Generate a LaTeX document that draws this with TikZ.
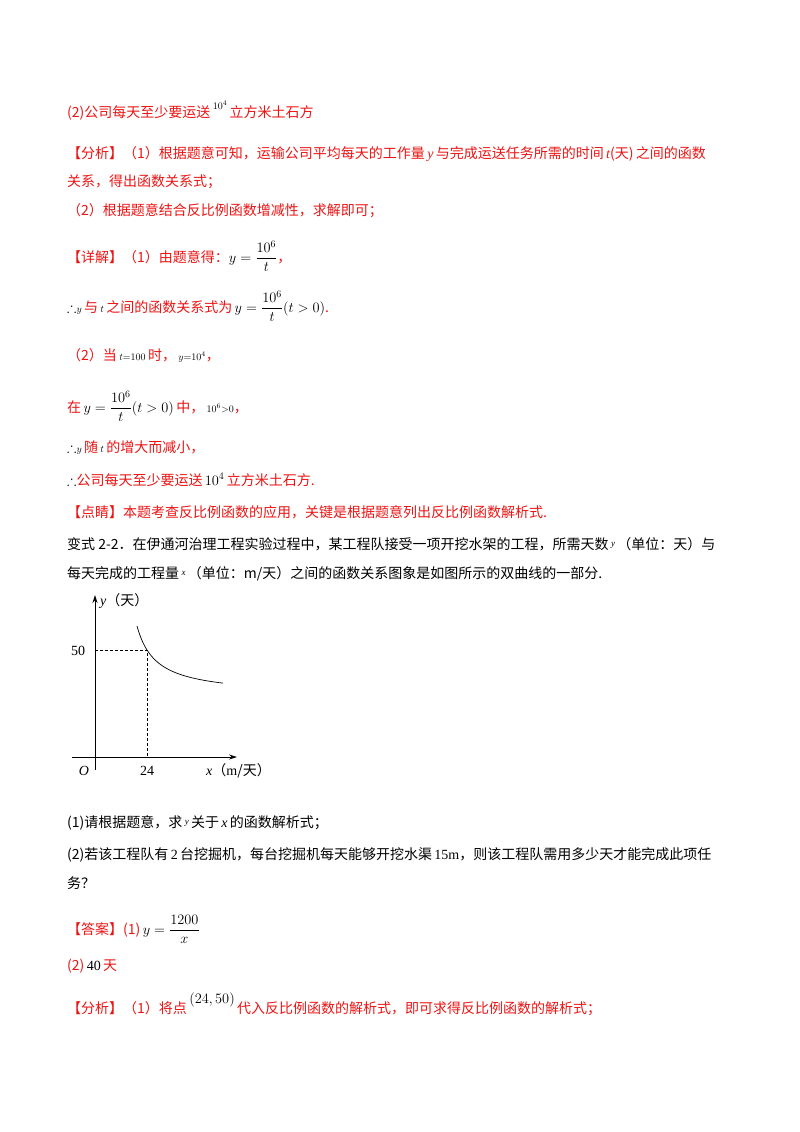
\documentclass[tikz,border=0pt]{standalone}
\usepackage{amsmath,amssymb}
\usepackage{fontspec}
\setmainfont{Noto Sans CJK SC}
\newfontfamily\lat{Liberation Serif}
\usetikzlibrary{arrows.meta}
\definecolor{rd}{RGB}{235,20,20}
\newcommand{\mm}[1]{\textcolor{black}{\lat #1}}
\tikzset{tx/.style={anchor=base west,inner sep=0pt,font=\fontsize{14}{16}\selectfont},
 red/.style={tx,text=rd}, blk/.style={tx,text=black},
 ax/.style={line width=0.8pt,-{Stealth[length=8pt,width=5pt]}},
 dsh/.style={dashed,line width=0.5pt,dash pattern=on 3pt off 2pt},
 lab/.style={anchor=base,inner sep=0pt,font=\lat\fontsize{14}{16}\selectfont}}
\begin{document}
\begin{tikzpicture}[x=1pt,y=-1pt]
\useasboundingbox (0,0) rectangle (800,1132);
\node[red] (l1) at (67,117) {(2)公司每天至少要运送\,\raisebox{8pt}{\mm{$\scriptstyle 10^4$}}\,立方米土石方};
\node[red] (l2) at (67,158) {【分析】（1）根据题意可知，运输公司平均每天的工作量\,{\lat\itshape y}\,与完成运送任务所需的时间\,{\lat\itshape t}(天)\,之间的函数};
\node[red] (l3) at (67,186) {关系，得出函数关系式；};
\node[red] (l4) at (67,215) {（2）根据题意结合反比例函数增减性，求解即可；};
\node[red] (l5) at (67,262) {【详解】（1）由题意得：\mm{$y=\dfrac{10^6}{t}$}，};
\node[red] (l6) at (67,312) {\mm{$\therefore\scriptstyle y$}\,与\,\mm{$\scriptstyle t$}\,之间的函数关系式为\,\mm{$y=\dfrac{10^6}{t}(t>0)$}.};
\node[red] (l7) at (67,360) {（2）当\,\mm{$\scriptstyle t=100$}\,时，\,\mm{$\scriptstyle y=10^4$}，};
\node[red] (l8) at (67,412) {在\,\mm{$y=\dfrac{10^6}{t}(t>0)$}\,中，\,\mm{$\scriptstyle 10^6>0$}，};
\node[red] (l9) at (67,452) {\mm{$\therefore\scriptstyle y$}\,随\,\mm{$\scriptstyle t$}\,的增大而减小，};
\node[red] (l10) at (67,485) {\mm{$\therefore$}公司每天至少要运送\,\mm{$10^4$}\,立方米土石方.};
\node[red] (l11) at (67,517) {【点睛】本题考查反比例函数的应用，关键是根据题意列出反比例函数解析式.};
\node[blk] (l12) at (67,549) {变式 2-2．在伊通河治理工程实验过程中，某工程队接受一项开挖水架的工程，所需天数\,\raisebox{3pt}{\lat\itshape\small y}\,（单位：天）与};
\node[blk] (l13) at (67,578) {每天完成的工程量\,\raisebox{3pt}{\lat\itshape\small x}\,（单位：m/天）之间的函数关系图象是如图所示的双曲线的一部分.};
% graph
\coordinate (o) at (95,757);
\coordinate (ytop) at (95,595);
\coordinate (ybot) at (95,770);
\coordinate (xl) at (72,757);
\coordinate (xr) at (237,757);
\draw[ax] (ybot) -- (ytop);
\draw[ax] (xl) -- (xr);
\coordinate (p) at (147,650);
\coordinate (py) at (95,650);
\coordinate (px) at (147,757);
\draw[dsh] (py) -- (p) -- (px);
\draw[line width=0.7pt] plot[domain=137:223,samples=60,smooth] (\x,{757-(61.2+1334/(\x-117.9))});
\node[lab,font=\lat\itshape\fontsize{14}{16}\selectfont] (O) at (84,775) {O};
\node[lab] (t24) at (147,775) {24};
\node[lab] (t50) at (78,655) {50};
\node[tx] (yl) at (100,605) {{\lat\itshape y}（天）};
\node[tx] (xlab) at (206,775) {{\lat\itshape x}（{\lat m}/天）};
\node[blk] (q1) at (67,827) {(1)请根据题意，求\,\raisebox{3pt}{\lat\itshape\small y}\,关于\,{\lat\itshape x}\,的函数解析式；};
\node[blk] (q2) at (67,859) {(2)若该工程队有\,{\lat 2}\,台挖掘机，每台挖掘机每天能够开挖水渠\,{\lat 15m}，则该工程队需用多少天才能完成此项任};
\node[blk] (q3) at (67,888) {务？};
\node[red] (a1) at (67,934) {【答案】(1)\,\mm{$y=\dfrac{1200}{x}$}};
\node[red] (a2) at (67,970) {(2)\,\mm{40}\,天};
\node[red] (a3) at (67,1013) {【分析】（1）将点\,\raisebox{10pt}{\mm{$(24,50)$}}\,代入反比例函数的解析式，即可求得反比例函数的解析式；};
\end{tikzpicture}
\end{document}
